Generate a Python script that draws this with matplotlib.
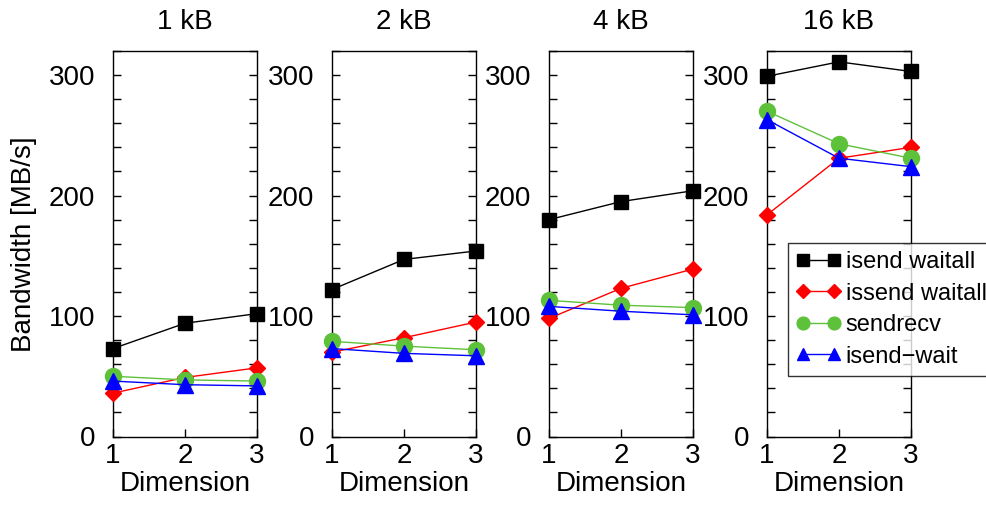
import matplotlib
matplotlib.use("Agg")
import matplotlib.pyplot as plt
from matplotlib.ticker import MultipleLocator

plt.rcParams['font.family'] = ['Liberation Sans', 'DejaVu Sans']

dimensions = [1, 2, 3]
panel_titles = ["1 kB", "2 kB", "4 kB", "16 kB"]
series_names = ["isend waitall", "issend waitall", "sendrecv", "isend\u2212wait"]

# bandwidth [MB/s] per message size, one list per series
isend_waitall = [[73, 94, 102], [122, 147, 154], [180, 195, 204], [299, 311, 303]]
issend_waitall = [[36, 49, 57], [70, 82, 95], [98, 123, 139], [184, 231, 240]]
sendrecv = [[50, 47, 46], [79, 75, 72], [113, 109, 107], [270, 243, 231]]
isend_wait = [[46, 43, 42], [73, 69, 67], [108, 104, 101], [263, 231, 224]]

series = [isend_waitall, issend_waitall, sendrecv, isend_wait]
styles = [
    dict(color="black", marker="s", ms=10, mfc="black", mec="black"),
    dict(color="#ff0000", marker="D", ms=8.5, mfc="#ff0000", mec="#ff0000"),
    dict(color="#5ec13a", marker="o", ms=11.5, mfc="#5ec13a", mec="#5ec13a"),
    dict(color="#0000ff", marker="^", ms=11.5, mfc="#0000ff", mec="#0000ff"),
]

FS = 20
LEG_FS = 17
W, H = 987, 507
fig = plt.figure(figsize=(W / 100, H / 100), dpi=100)

lefts = [113, 332, 549, 767]
pw = 144
top, bottom = 51, 436.5
axes = []
for i, x0 in enumerate(lefts):
    ax = fig.add_axes([x0 / W, 1 - bottom / H, pw / W, (bottom - top) / H])
    axes.append(ax)
    handles = []
    for data, st in zip(series, styles):
        h, = ax.plot(dimensions, data[i], lw=1.0, clip_on=False, zorder=3, **st)
        handles.append(h)
    ax.set_xlim(1, 3)
    ax.set_ylim(0, 320)
    ax.set_xticks(dimensions)
    ax.yaxis.set_major_locator(MultipleLocator(100))
    ax.yaxis.set_minor_locator(MultipleLocator(20))
    ax.tick_params(axis='y', which='both', direction='in', left=True, right=True,
                   length=6, width=1, labelsize=FS, pad=13)
    ax.tick_params(axis='x', which='major', direction='in', bottom=True, top=False,
                   length=6, width=1, labelsize=FS, pad=5)
    for sp in ax.spines.values():
        sp.set_linewidth(1.0)
    ax.set_title(panel_titles[i], fontsize=FS, pad=16)
    ax.set_xlabel("Dimension", fontsize=FS, labelpad=1)

axes[0].set_ylabel("Bandwidth [MB/s]", fontsize=FS, labelpad=8)

leg = fig.legend(handles, series_names, loc="upper left",
                 bbox_to_anchor=(788 / W, 1 - 243 / H), fontsize=LEG_FS,
                 frameon=True, fancybox=False, edgecolor="black",
                 numpoints=2, markerscale=0.8,
                 borderpad=0.35, labelspacing=0.4, handlelength=1.9,
                 handletextpad=0.2, borderaxespad=0)
leg.get_frame().set_linewidth(1.0)

fig.savefig("out.png", dpi=100)
